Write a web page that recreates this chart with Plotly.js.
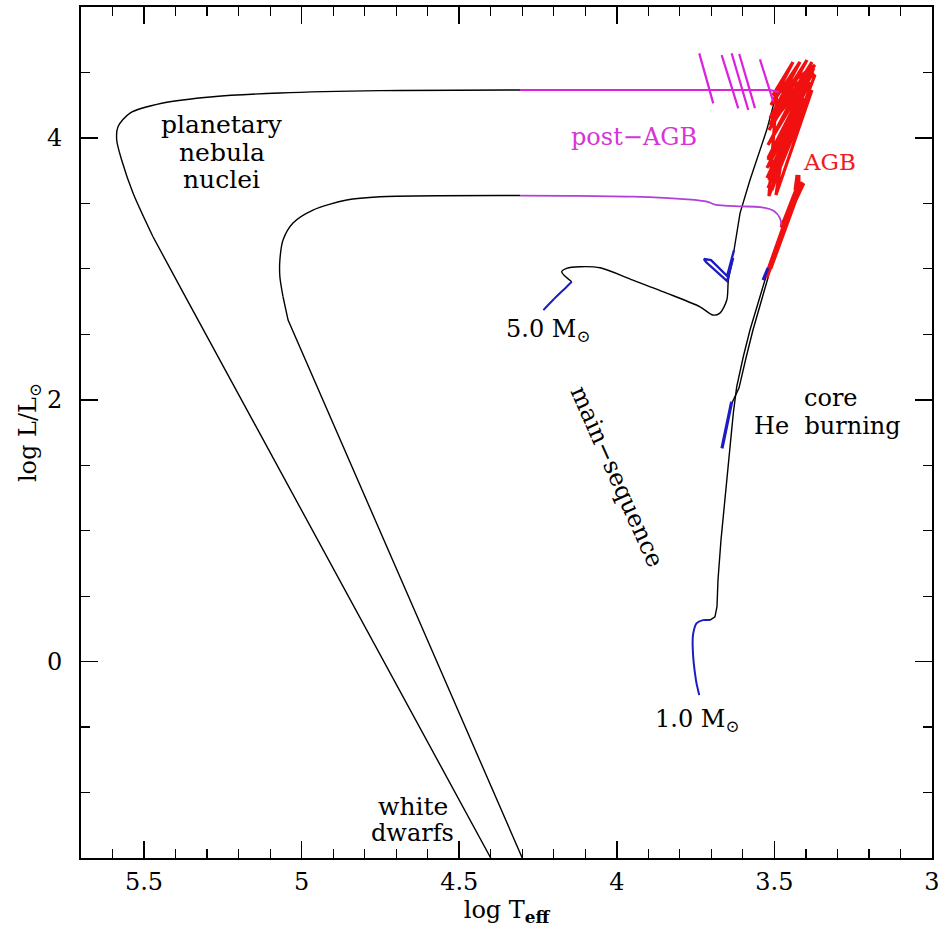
<!DOCTYPE html>
<html><head><meta charset="utf-8">
<script src="https://cdn.plot.ly/plotly-3.0.1.min.js"></script>
<style>html,body{margin:0;padding:0;background:#fff}#chart{width:943px;height:932px}</style>
</head><body><div id="chart"></div>
<script>
// ---- 5.0 Msun track ----
const m5_ms_x = [4.233, 4.2025, 4.159, 4.143];
const m5_ms_y = [2.685, 2.762, 2.863, 2.901];
const m5_hg_x = [4.143, 4.175, 4.159, 4.117, 4.053, 3.949, 3.842, 3.736, 3.695, 3.673, 3.651, 3.646, 3.631];
const m5_hg_y = [2.901, 2.978, 3.004, 3.016, 3.008, 2.914, 2.815, 2.71, 2.647, 2.662, 2.762, 2.914, 3.083];
const m5_he_x = [3.631, 3.650, 3.717, 3.7235, 3.701, 3.650, 3.628];
const m5_he_y = [3.083, 2.907, 3.052, 3.075, 3.067, 2.945, 3.144];
const m5_gb_x = [3.628, 3.609, 3.5775, 3.5245, 3.492];
const m5_gb_y = [3.144, 3.426, 3.678, 4.060, 4.351];
const m5_agb_x = [3.492, 3.5173, 3.4506, 3.5204, 3.4252, 3.5236, 3.4062, 3.5236, 3.3872, 3.5204, 3.3745, 3.5204, 3.3808, 3.5173, 3.3967, 3.514, 3.4189, 3.5109, 3.4411, 3.5046, 3.3713, 3.4982, 3.3808, 3.4951, 3.4728, 3.5077, 3.4348, 3.5173, 3.4094, 3.5204, 3.3777, 3.514, 3.4348, 3.4887, 3.3713, 3.4855];
const m5_agb_y = [4.351, 3.556, 3.984, 3.617, 4.175, 3.694, 4.305, 3.77, 4.427, 3.846, 4.534, 3.946, 4.580, 4.060, 4.595, 4.152, 4.580, 4.251, 4.580, 4.328, 4.481, 3.678, 4.366, 3.564, 3.908, 3.602, 4.0985, 3.678, 4.366, 3.831, 4.503, 4.0985, 4.519, 4.213, 4.557, 4.351];
const m5_pagb_x = [3.4855, 3.5153, 3.5036, 3.5458, 3.5153, 3.5782, 3.5617, 3.6115, 3.5782, 3.6016, 3.583, 3.6356, 3.6016, 3.6327, 3.6147, 3.6673, 3.6327, 3.7057, 3.694, 3.7384, 3.7057, 4.0534, 4.307];
const m5_pagb_y = [4.351, 4.366, 4.277, 4.600, 4.366, 4.366, 4.228, 4.641, 4.366, 4.366, 4.213, 4.646, 4.366, 4.366, 4.226, 4.633, 4.366, 4.366, 4.264, 4.646, 4.366, 4.366, 4.366];
const m5_pn_top_x = [4.307, 4.751, 5.069, 5.281, 5.440, 5.5445, 5.5826, 5.5867, 5.571, 5.535, 5.4716];
const m5_pn_top_y = [4.366, 4.361, 4.343, 4.315, 4.267, 4.190, 4.086, 3.984, 3.831, 3.579, 3.245];
const m5_wd_x = [5.4716, 5.375, 4.4];
const m5_wd_y = [3.245, 2.815, -1.5];

// ---- 1.0 Msun track ----
const m1_ms_x = [3.7384, 3.7489, 3.7593, 3.7574, 3.7466, 3.7267, 3.7044];
const m1_ms_y = [-0.256, -0.141, 0.113, 0.218, 0.294, 0.317, 0.317];
const m1_rgb_x = [3.7044, 3.6886, 3.6822, 3.679, 3.6695, 3.6569, 3.6496, 3.641, 3.6305, 3.6197, 3.5988, 3.5775, 3.5458, 3.5268, 3.4506];
const m1_rgb_y = [0.317, 0.342, 0.419, 0.623, 0.928, 1.234, 1.463, 1.641, 1.896, 2.099, 2.3285, 2.5325, 2.787, 2.94, 3.449];
const m1_he_x = [3.6356, 3.6664, 3.66, 3.6378];
const m1_he_y = [1.985, 1.629, 1.692, 1.9595];
const m1_eagb_x = [3.6378, 3.6124, 3.5902, 3.568, 3.5379, 3.5188];
const m1_eagb_y = [1.9595, 2.089, 2.319, 2.5325, 2.785, 2.945];
const m1_top_x = [3.5363, 3.5204];
const m1_top_y = [2.914, 3.006];
const m1_agb_x = [3.5268, 3.4506, 3.514, 3.4348, 3.476, 3.4252, 3.4252, 3.4316, 3.4094, 3.4348, 3.476];
const m1_agb_y = [2.93, 3.449, 3.006, 3.526, 3.312, 3.625, 3.717, 3.602, 3.6555, 3.526, 3.327];
const m1_pagb_x = [3.4776, 3.4824, 3.5014, 3.5458, 3.609, 3.6886, 3.714, 3.7774, 3.9487, 4.158, 4.307];
const m1_pagb_y = [3.335, 3.388, 3.442, 3.472, 3.4775, 3.491, 3.514, 3.531, 3.551, 3.558, 3.56];
const m1_pn_top_x = [4.307, 4.751, 4.857, 4.964, 5.0274, 5.059, 5.069, 5.069, 5.059];
const m1_pn_top_y = [3.56, 3.551, 3.526, 3.449, 3.35, 3.22, 3.067, 2.94, 2.787];
const m1_wd_x = [5.059, 5.043, 4.656, 4.3];
const m1_wd_y = [2.787, 2.609, 0.47, -1.5];

// ---- labels (one entry per text line) ----
const labelText = ["planetary", "nebula", "nuclei", "post\u2212AGB", "AGB", "5.0 M<sub>\u2299</sub>", "main\u2212sequence", "core", "He  burning", "1.0 M<sub>\u2299</sub>", "white", "dwarfs"];
const labelX = [5.253, 5.253, 5.253, 3.947, 3.3237, 4.2184, 3.9995, 3.32, 3.33, 3.7457, 4.6467, 4.6467];
const labelY = [4.105, 3.892, 3.679, 4.007, 3.816, 2.5325, 1.4095, 2.010, 1.800, -0.447, -1.105, -1.310];
const labelColor = ["#000000", "#000000", "#000000", "#d634d6", "#ee1c1c", "#000000", "#000000", "#000000", "#000000", "#000000", "#000000", "#000000"];
const labelAngle = [0, 0, 0, 0, 0, 0, 66, 0, 0, 0, 0, 0];
const labelSize = [25, 25, 25, 24, 23, 24, 24, 24, 24, 24, 25, 24];

const BLACK = "#000000", BLUE = "#1c1cc0", RED = "#f01010", MAG = "#dd22dd", MAG2 = "#b040d8";
function tr(x, y, color, width, shape) {
  return {x: x, y: y, type: "scatter", mode: "lines", hoverinfo: "skip",
          line: {color: color, width: width, shape: shape || "linear", smoothing: 0.8}};
}
const traces = [
  tr(m5_pn_top_x, m5_pn_top_y, BLACK, 1.4, "spline"),
  tr(m5_wd_x, m5_wd_y, BLACK, 1.4),
  tr(m1_pn_top_x, m1_pn_top_y, BLACK, 1.4, "spline"),
  tr(m1_wd_x, m1_wd_y, BLACK, 1.4),
  tr(m5_hg_x, m5_hg_y, BLACK, 1.4, "spline"),
  tr(m5_gb_x, m5_gb_y, BLACK, 1.4),
  tr(m1_rgb_x, m1_rgb_y, BLACK, 1.4),
  tr(m1_eagb_x, m1_eagb_y, BLACK, 1.4),
  tr(m1_agb_x, m1_agb_y, RED, 5),
  tr(m5_agb_x, m5_agb_y, RED, 3.2),
  tr(m5_pagb_x, m5_pagb_y, MAG, 2.2),
  tr(m1_pagb_x, m1_pagb_y, MAG2, 1.8, "spline"),
  tr(m5_ms_x, m5_ms_y, BLUE, 2, "spline"),
  tr(m5_he_x, m5_he_y, BLUE, 2.4),
  tr(m1_ms_x, m1_ms_y, BLUE, 2, "spline"),
  tr(m1_he_x, m1_he_y, BLUE, 3.2),
  tr(m1_top_x, m1_top_y, BLUE, 3)
];

const annotations = labelText.map((t, i) => ({
  x: labelX[i], y: labelY[i], xref: "x", yref: "y", text: t, showarrow: false,
  textangle: labelAngle[i], align: "center", borderpad: 0,
  font: {family: "DejaVu Serif", size: labelSize[i], color: labelColor[i]}
}));

const axisCommon = {
  showline: true, linecolor: "#000", linewidth: 2, mirror: "ticks",
  ticks: "inside", ticklen: 17, tickwidth: 1.5, tickcolor: "#000",
  showgrid: false, zeroline: false, tickmode: "linear",
  tickfont: {family: "DejaVu Serif", size: 24, color: "#000"}
};
const layout = {
  width: 943, height: 932, showlegend: false,
  paper_bgcolor: "#fff", plot_bgcolor: "#fff",
  margin: {l: 81, r: 11, t: 7, b: 74},
  xaxis: Object.assign({}, axisCommon, {
    range: [5.7, 3.0], tick0: 3.0, dtick: 0.5, ticklabelstandoff: 1,
    minor: {dtick: 0.1, ticklen: 9, tickwidth: 1.2, ticks: "inside", tickcolor: "#000"},
    title: {text: "log T<sub><b>eff</b></sub>", font: {family: "DejaVu Serif", size: 24, color: "#000"}, standoff: 6}
  }),
  yaxis: Object.assign({}, axisCommon, {
    range: [-1.5, 5.0], tick0: 0, dtick: 2, ticklabelstandoff: 12,
    minor: {dtick: 0.5, ticklen: 9, tickwidth: 1.2, ticks: "inside", tickcolor: "#000"},
    title: {text: "log L/L<sub>\u2299</sub>", font: {family: "DejaVu Serif", size: 24, color: "#000"}, standoff: 4}
  }),
  annotations: annotations
};
Plotly.newPlot("chart", traces, layout, {displayModeBar: false, staticPlot: true});
</script></body></html>
